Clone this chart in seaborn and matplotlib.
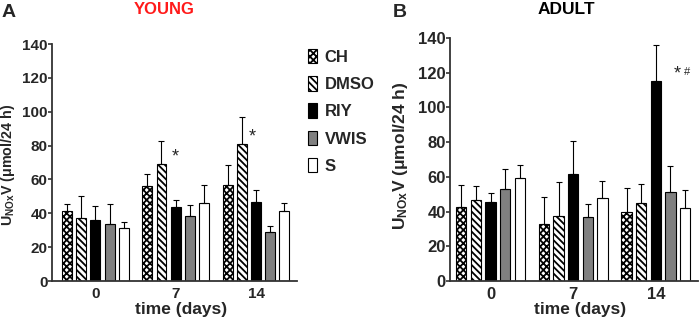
import matplotlib
matplotlib.use("Agg")
import matplotlib.pyplot as plt
import seaborn as sns
import pandas as pd
import numpy as np

days = ["0", "7", "14"]
groups = ["CH", "DMSO", "RIY", "VWIS", "S"]

# YOUNG (panel A): means and upper SEM
young_ch = [41.6, 56.0, 56.6]
young_dmso = [37.3, 69.2, 80.7]
young_riy = [35.9, 43.6, 46.9]
young_vwis = [33.9, 38.7, 29.2]
young_s = [31.6, 46.3, 41.6]
young_ch_err = [3.8, 7.3, 12.2]
young_dmso_err = [13.0, 13.8, 15.9]
young_riy_err = [8.7, 4.5, 7.1]
young_vwis_err = [11.7, 6.1, 3.5]
young_s_err = [3.3, 10.7, 4.7]

# ADULT (panel B)
adult_ch = [42.4, 32.8, 39.5]
adult_dmso = [46.4, 37.2, 44.9]
adult_riy = [45.3, 61.6, 115.1]
adult_vwis = [52.9, 36.6, 51.4]
adult_s = [59.6, 47.9, 42.0]
adult_ch_err = [13.0, 15.5, 14.0]
adult_dmso_err = [8.3, 19.6, 11.1]
adult_riy_err = [5.3, 19.3, 20.7]
adult_vwis_err = [11.7, 7.9, 14.6]
adult_s_err = [7.5, 10.0, 10.2]

yticks = [0, 20, 40, 60, 80, 100, 120, 140]

sns.set_style("ticks")
plt.rcParams["font.family"] = ["Liberation Sans", "DejaVu Sans"]
plt.rcParams["font.weight"] = "bold"
plt.rcParams["hatch.linewidth"] = 1.3
plt.rcParams["mathtext.fontset"] = "custom"
plt.rcParams["mathtext.rm"] = "Liberation Sans:bold"
plt.rcParams["mathtext.bf"] = "Liberation Sans:bold"
plt.rcParams["mathtext.it"] = "Liberation Sans:bold"

colors = {"CH": "white", "DMSO": "white", "RIY": "black", "VWIS": "#808080", "S": "white"}
hatches = {"CH": "xxxxx", "DMSO": "\\\\\\\\\\", "RIY": "", "VWIS": "", "S": ""}


def make_df(vals):
    rows = []
    for g, v in zip(groups, vals):
        for d, x in zip(days, v):
            rows.append({"day": d, "group": g, "value": x})
    return pd.DataFrame(rows)


fig = plt.figure(figsize=(6.99, 3.23), dpi=100)
axA = fig.add_axes([0.0744, 0.130, 0.3505, 0.7337])
axB = fig.add_axes([0.6438, 0.130, 0.3548, 0.7523])

panels = [
    (axA, [young_ch, young_dmso, young_riy, young_vwis, young_s],
     [young_ch_err, young_dmso_err, young_riy_err, young_vwis_err, young_s_err], (-0.54, 2.51),
     11, 10.3, (-0.143, 0.49), (0.527, -0.088)),
    (axB, [adult_ch, adult_dmso, adult_riy, adult_vwis, adult_s],
     [adult_ch_err, adult_dmso_err, adult_riy_err, adult_vwis_err, adult_s_err], (-0.49, 2.51),
     12, 12.5, (-0.161, 0.516), (0.524, -0.086)),
]

centers = {}
for ax, vals, errs, xl, tfs, yfs, ylc, xlc in panels:
    df = make_df(vals)
    sns.barplot(data=df, x="day", y="value", hue="group", order=days, hue_order=groups,
                palette=colors, errorbar=None, width=0.885, gap=0.3,
                edgecolor="black", linewidth=0.8, ax=ax, legend=True)
    conts = list(ax.containers)
    pos = []
    for i, cont in enumerate(conts):
        g = groups[i]
        xs, hs = [], []
        for b in cont:
            b.set_hatch(hatches[g])
            b.set_edgecolor("black")
            xs.append(b.get_x() + b.get_width() / 2)
            hs.append(b.get_height())
        ax.errorbar(xs, hs, yerr=[np.zeros(len(hs)), errs[i]], fmt="none",
                    ecolor="black", elinewidth=0.8, capsize=2.5, capthick=0.8, zorder=1)
        pos.append(xs)
    centers[ax] = pos
    ax.set_xlim(*xl)
    ax.set_ylim(0, 140)
    ax.set_yticks(yticks)
    ax.set_xlabel("time (days)", fontsize=12.5, fontweight="bold")
    ax.xaxis.set_label_coords(*xlc)
    ax.set_ylabel(r"U$_{\mathbf{NOx}}$V ($\mathbf{\mu}$mol/24 h)", fontsize=yfs, fontweight="bold")
    ax.yaxis.set_label_coords(*ylc)
    ax.tick_params(axis="x", length=0, labelsize=tfs, pad=4)
    ax.tick_params(axis="y", length=3, width=1.2, labelsize=tfs, pad=0, color="#333333")
    for sp in ["top", "right"]:
        ax.spines[sp].set_visible(False)
    for sp in ["left", "bottom"]:
        ax.spines[sp].set_linewidth(1.3)
        ax.spines[sp].set_color("#333333")
    for lab in ax.get_xticklabels() + ax.get_yticklabels():
        lab.set_fontweight("bold")

handles, labels = axA.get_legend_handles_labels()
axA.get_legend().remove()
axB.get_legend().remove()
for h, g in zip(handles, labels):
    h.set_hatch(hatches[g])
    h.set_edgecolor("black")
leg = fig.legend(handles, labels, loc="upper left", bbox_to_anchor=(0.419, 0.895), frameon=False,
                 handlelength=0.55, handleheight=0.95, handletextpad=0.45,
                 labelspacing=0.68, prop={"weight": "bold", "size": 12})

# significance marks
pA = centers[axA]
axA.text(pA[2][1], 73, "*", ha="center", va="center", fontsize=13, fontweight="normal")
axA.text(pA[2][2] - 0.05, 85, "*", ha="center", va="center", fontsize=13, fontweight="normal")
pB = centers[axB]
axB.text(pB[3][2] + 0.08, 119.5, "*", ha="center", va="center", fontsize=13, fontweight="normal")
axB.text(pB[4][2] + 0.02, 120.5, "#", ha="center", va="center", fontsize=8, fontweight="normal")

fig.text(0.002, 0.988, "A", fontsize=14, fontweight="bold", va="top", ha="left")
fig.text(0.562, 0.988, "B", fontsize=14, fontweight="bold", va="top", ha="left")
fig.text(0.235, 0.995, "YOUNG", color="#ff1a1a", fontsize=12, fontweight="bold", va="top", ha="center")
fig.text(0.81, 0.995, "ADULT", color="black", fontsize=12.5, fontweight="bold", va="top", ha="center")

fig.savefig("out.png", dpi=100)
